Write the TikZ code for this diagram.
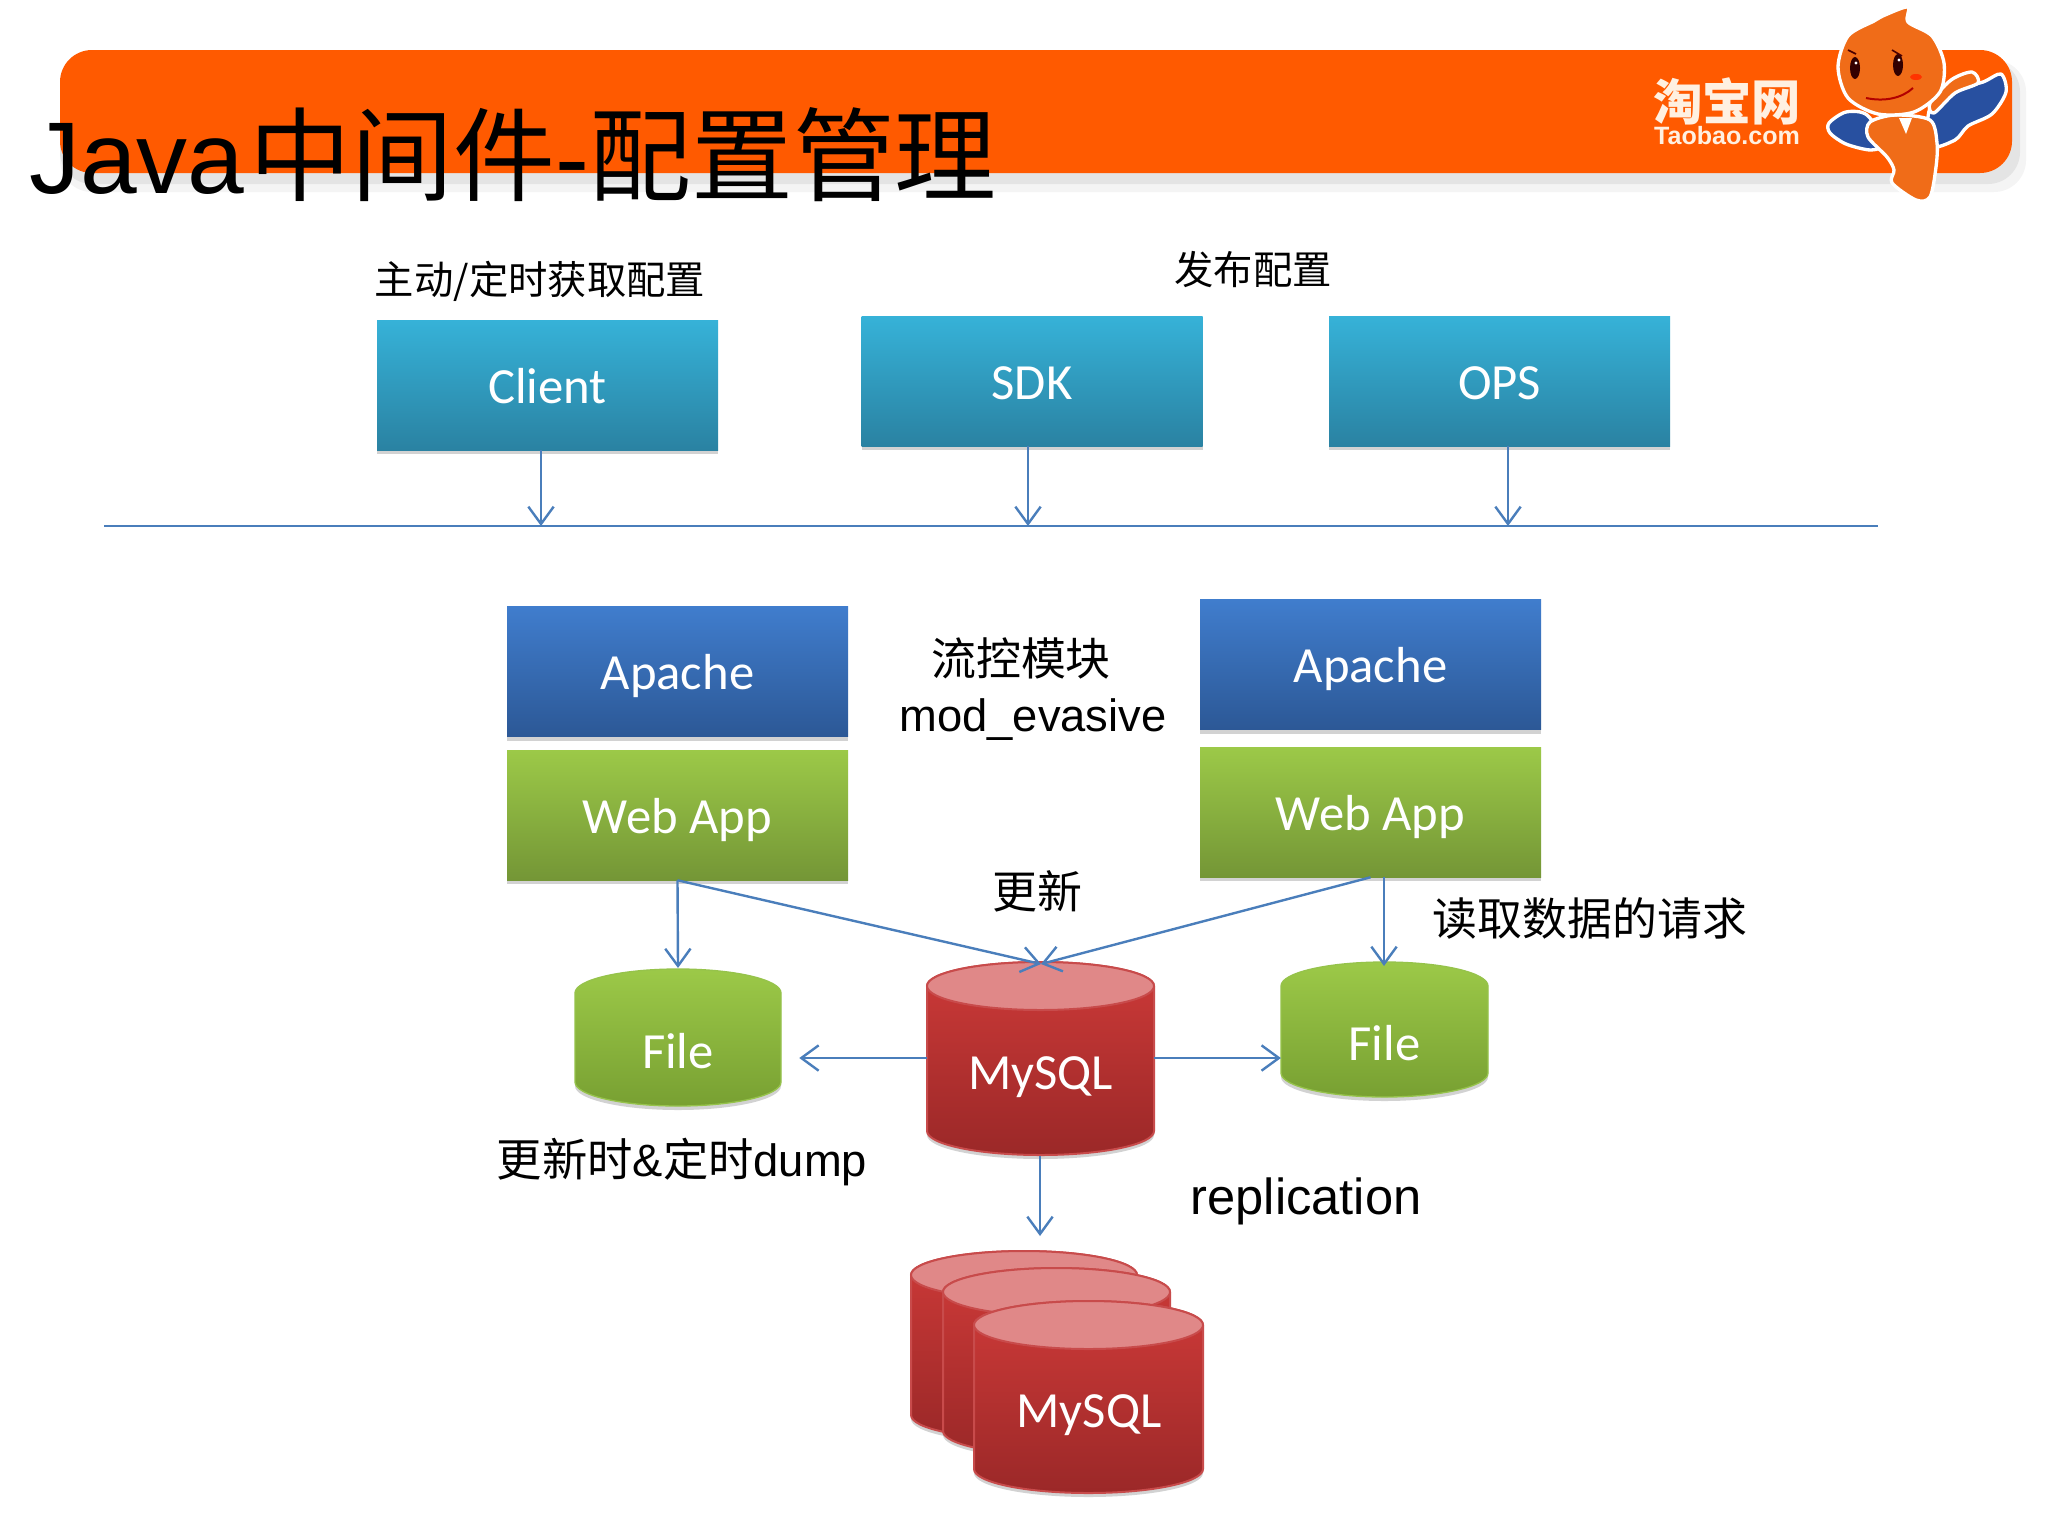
\documentclass[tikz,border=0pt]{standalone}
\usepackage{fontspec}
\setmainfont{Liberation Sans}
\newfontfamily\cjk{Noto Sans CJK SC}
\newfontfamily\carlito{Carlito}
\usetikzlibrary{arrows.meta,shadows}

\definecolor{flowblue}{RGB}{74,126,187}
\definecolor{bannerorange}{RGB}{255,90,0}
\definecolor{mascotorange}{RGB}{240,108,24}
\definecolor{mascotblue}{RGB}{40,80,160}
\definecolor{logocream}{RGB}{255,240,225}

\tikzset{
  softshadow/.style={drop shadow={shadow xshift=0pt,shadow yshift=-3pt,fill=black!50,opacity=.35}},
  boxbase/.style={minimum width=255.75pt,minimum height=97.5pt,inner sep=0pt,font=\carlito\fontsize{38}{44}\selectfont,text=white,text height=27pt,text depth=0pt,softshadow},
  tealbox/.style={boxbase,top color={rgb,255:red,54;green,178;blue,216},bottom color={rgb,255:red,42;green,130;blue,162}},
  apachebox/.style={boxbase,top color={rgb,255:red,64;green,125;blue,205},bottom color={rgb,255:red,44;green,88;blue,150}},
  webbox/.style={boxbase,top color={rgb,255:red,156;green,201;blue,72},bottom color={rgb,255:red,116;green,150;blue,54}},
  redcan/.style={draw={rgb,255:red,200;green,75;blue,75},line width=1.5pt,top color={rgb,255:red,205;green,58;blue,56},bottom color={rgb,255:red,155;green,40;blue,40},softshadow},
  redcap/.style={draw={rgb,255:red,200;green,75;blue,75},line width=1.5pt,fill={rgb,255:red,224;green,136;blue,136}},
  greencan/.style={draw={rgb,255:red,150;green,195;blue,75},line width=1pt,top color={rgb,255:red,156;green,201;blue,72},bottom color={rgb,255:red,120;green,160;blue,50},softshadow},
  greencap/.style={},
  canlabel/.style={inner sep=0pt,font=\carlito\fontsize{38}{44}\selectfont,text=white,text height=27pt,text depth=0pt},
  cjklabel/.style={inner sep=0pt,font=\cjk\fontsize{33.7}{38}\selectfont},
  smalllabel/.style={inner sep=0pt,font=\cjk\fontsize{29.5}{34}\selectfont},
  arial/.style={inner sep=0pt,font=\fontsize{34}{38}\selectfont},
  flow/.style={draw=flowblue,line width=1.8pt,-{Straight Barb[length=13pt,width=19pt]}},
  mascot/.style={line width=2.5pt,draw=white,line join=round},
}

% x left, x right, y top, y bottom, cap radius, can style, cap style
\newcommand{\dbcan}[7]{
  \pgfmathsetmacro\canrx{(#2-#1)/2}
  \path [#6] (#1,#3+#5) -- (#1,#4-#5) arc[start angle=180,end angle=0,x radius=\canrx,y radius=#5] -- (#2,#3+#5) arc[start angle=0,end angle=-180,x radius=\canrx,y radius=#5] -- cycle ;
  \path [#7] ({(#1+#2)/2},#3+#5) ellipse[x radius=\canrx,y radius=#5] ;
}

\begin{document}
\begin{tikzpicture}[x=0.75pt,y=0.75pt,yscale=-1,xscale=1]
\useasboundingbox (0,0) rectangle (2048,1536);

%Banner
\fill [white] (0,0) rectangle (2048,1536);
\fill [black!35,opacity=.12] (60,60) [rounded corners=24] rectangle (2026,192);
\fill [black!35,opacity=.2] (60,60) [rounded corners=24] rectangle (2020,184);
\fill [bannerorange] (60,50) [rounded corners=24] rectangle (2012,173);

%Logo text
\node (logocn) [inner sep=0pt,text=logocream,font=\cjk\bfseries\fontsize{37}{40}\selectfont] at (1727,101) {淘宝网};
\node (logoen) [inner sep=0pt,text=logocream,font=\bfseries\fontsize{18.8}{22}\selectfont] at (1727,136) {Taobao.com};

%Mascot
\draw [mascot,fill=mascotblue] plot[smooth cycle] coordinates {(1930,108) (1955,90) (1983,82) (2001,74) (2006,92) (1992,114) (1968,126) (1955,140) (1930,146)};
\draw [mascot,fill=mascotblue] plot[smooth cycle] coordinates {(1829,123) (1846,112) (1867,115) (1885,143) (1871,150) (1846,144) (1830,133)};
\draw [mascot,fill=mascotorange] plot[smooth cycle] coordinates {(1930,103) (1951,80) (1972,72) (1978,83) (1955,93) (1934,113)};
\draw [mascot,fill=mascotorange] plot[smooth cycle] coordinates {(1870,122) (1895,115) (1930,120) (1937,143) (1936,167) (1930,197) (1916,200) (1892,183) (1894,170) (1887,157) (1868,137)};
\draw [mascot,fill=mascotorange] plot[smooth cycle] coordinates {(1848,36) (1874,21) (1885,15) (1908,7) (1908,22) (1932,36) (1944,63) (1940,92) (1914,112) (1878,114) (1848,98) (1838,67)};
\fill [black!80!red] (1855,68) ellipse[x radius=5,y radius=11] ;
\fill [black!80!red] (1898,65) ellipse[x radius=5,y radius=11] ;
\fill [white] (1856,63) circle[radius=1.6] ;
\fill [white] (1899,60) circle[radius=1.6] ;
\draw [black!70!red,line width=1.2pt] (1848,50) -- (1856,54) ;
\draw [black!70!red,line width=1.2pt] (1892,50) -- (1902,56) ;
\fill [red!60!orange] (1916,77) ellipse[x radius=6,y radius=3] ;
\draw [red!70!black,line width=1.5pt] (1866,98) .. controls (1885,102) and (1902,98) .. (1913,88) ;
\fill [white] (1899,118) -- (1912,118) -- (1906,134) -- cycle ;

%Title
\node (title) [anchor=base west,inner sep=0pt,font=\fontsize{76.4}{80}\selectfont] at (29,193) {Java\hspace{4pt}{\cjk 中间件}-{\cjk 配置管理}};

%Top row
\node (getlabel) [smalllabel] at (540,281) {主动/定时获取配置};
\node (publabel) [smalllabel] at (1253,270) {发布配置};
\node (client) [tealbox] at (547.5,385) {Client};
\node (sdk) [tealbox] at (1032,381) {SDK};
\node (ops) [tealbox] at (1499.5,381) {OPS};

%Bus line
\coordinate (busleft) at (104,526);
\coordinate (busright) at (1878,526);
\coordinate (clienttap) at (541,526);
\coordinate (sdktap) at (1028,526);
\coordinate (opstap) at (1508,526);
\draw [flowblue,line width=1.8pt] (busleft) -- (busright) ;
\draw [flow] (client.south -| clienttap) -- (clienttap) ;
\draw [flow] (sdk.south -| sdktap) -- (sdktap) ;
\draw [flow] (ops.south -| opstap) -- (opstap) ;

%App boxes
\node (apacheleft) [apachebox] at (677.5,671.5) {Apache};
\node (webleft) [webbox] at (677.5,815) {Web App};
\node (apacheright) [apachebox] at (1370.5,664.5) {Apache};
\node (webright) [webbox] at (1370.5,812) {Web App};
\node (flowlabel) [cjklabel] at (1021,658) {流控模块};
\node (modlabel) [arial] at (1033,720) {mod\_evasive};
\node (updlabel) [cjklabel] at (1037,891) {更新};
\node (readlabel) [cjklabel] at (1590,918) {读取数据的请求};
\node (dumplabel) [arial] at (682,1162) {{\cjk 更新时}\&{\cjk 定时}dump};
\node (replabel) [inner sep=0pt,font=\fontsize{38}{44}\selectfont] at (1306,1201) {replication};

%Cans
\dbcan{575}{781}{969}{1106}{24}{greencan}{greencap}
\node (fileleft) [canlabel,minimum width=154.5pt,minimum height=84pt] at (678,1050) {File};
\dbcan{1281}{1488}{962}{1097}{24}{greencan}{greencap}
\node (fileright) [canlabel,minimum width=155pt,minimum height=83pt] at (1384.5,1042) {File};
\dbcan{927}{1154}{962}{1155}{24}{redcan}{redcap}
\node (mysql) [canlabel,minimum width=170pt,minimum height=127pt] at (1040.5,1071) {MySQL};
\dbcan{911}{1137}{1251}{1439}{24}{redcan}{redcap}
\dbcan{943}{1170}{1268}{1455}{24}{redcan}{redcap}
\dbcan{974}{1203}{1301}{1493}{24}{redcan}{redcap}
\node (stack) [canlabel,minimum width=171pt,minimum height=125pt] at (1089,1409) {MySQL};

%Connectors
\coordinate (mysqltop) at (1041,964);
\coordinate (filelefttop) at (678,968);
\coordinate (filerighttop) at (1384,966);
\coordinate (tapline) at (0,1058);
\coordinate (stacktop) at (1040,1236);
\draw [flow] (webleft.south) -- (filelefttop) ;
\draw [flow] (webright.south -| filerighttop) -- (filerighttop) ;
\draw [flow] (webleft.south) -- (mysqltop) ;
\draw [flow] (webright.south) -- (mysqltop) ;
\draw [flow,shorten >=13.5pt] (mysql.west |- tapline) -- (fileleft.east |- tapline) ;
\draw [flow] (mysql.east |- tapline) -- (fileright.west |- tapline) ;
\draw [flow] (mysql.south -| stacktop) -- (stacktop) ;
\end{tikzpicture}
\end{document}
